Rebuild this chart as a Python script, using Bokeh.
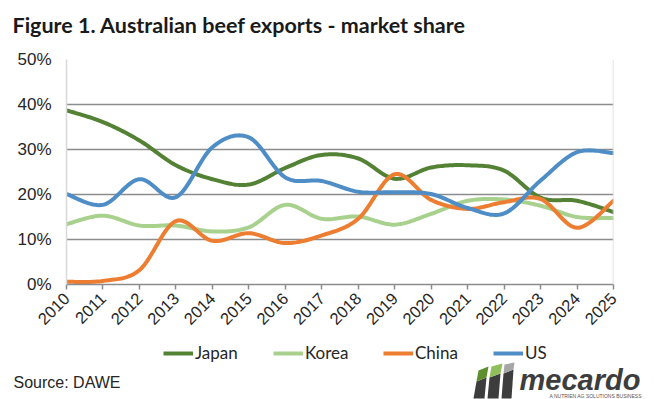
import numpy as np
from bokeh.plotting import figure
from bokeh.layouts import column
from bokeh.models import (FixedTicker, NumeralTickFormatter, Legend, LegendItem,
                          Label, Span, Range1d)
from bokeh.embed import file_html
from bokeh.resources import INLINE

years = list(range(2010, 2026))
japan = [38.7, 36.1, 32.0, 26.5, 23.4, 22.2, 25.9, 28.8, 28.0, 23.5, 26.0, 26.5, 25.3, 19.3, 18.6, 16.1]
korea = [13.4, 15.3, 13.1, 13.1, 11.8, 12.7, 17.7, 14.6, 15.1, 13.3, 15.7, 18.6, 18.9, 17.5, 15.0, 14.8]
china = [0.6, 0.8, 3.2, 14.1, 9.7, 11.4, 9.2, 10.9, 14.6, 24.5, 18.8, 16.8, 18.3, 19.0, 12.6, 18.6]
us = [20.1, 17.7, 23.4, 19.4, 30.5, 32.7, 23.8, 23.0, 20.6, 20.5, 20.1, 17.0, 15.8, 23.1, 29.4, 29.2]

series = [("Japan", japan, "#548235"), ("Korea", korea, "#A9D18E"),
          ("China", china, "#ED7D31"), ("US", us, "#4E8DC5")]

W = 654
H0, H1, H2 = 45, 295, 59      # title strip, chart, legend/source strip
L, R, T = 66, 41, 14
FH = 225
B = H1 - T - FH


def smooth(xs, ys, n=20):
    xs = np.asarray(xs, float)
    ys = np.asarray(ys, float) / 100.0
    N = len(xs)
    ox, oy = [], []
    for i in range(N - 1):
        a = i - 1 if i > 0 else i
        d = i + 2 if i + 2 < N else i + 1
        p0 = np.array([xs[i], ys[i]])
        p3 = np.array([xs[i + 1], ys[i + 1]])
        c1 = p0 + (np.array([xs[i + 1], ys[i + 1]]) - np.array([xs[a], ys[a]])) / 6
        c2 = p3 - (np.array([xs[d], ys[d]]) - np.array([xs[i], ys[i]])) / 6
        for t in np.linspace(0, 1, n, endpoint=False):
            pt = ((1 - t) ** 3) * p0 + 3 * ((1 - t) ** 2) * t * c1 + 3 * (1 - t) * t * t * c2 + t ** 3 * p3
            ox.append(pt[0]); oy.append(pt[1])
    ox.append(xs[-1]); oy.append(ys[-1])
    return ox, oy


def strip(h, y_top):
    f = figure(width=W, height=h, output_backend="svg", toolbar_location=None,
               x_range=Range1d(0, W), y_range=Range1d(y_top + h, y_top),
               x_axis_location=None, y_axis_location=None,
               min_border=0, min_border_left=0, min_border_right=0,
               min_border_top=0, min_border_bottom=0, frame_align=False)
    f.title.visible = False
    f.outline_line_color = None
    f.xgrid.visible = False
    f.ygrid.visible = False
    return f


# ---- title strip ----
p0 = strip(H0, 0)
p0.add_layout(Label(x=12, y=24, text="Figure 1. Australian beef exports - market share",
                    text_font="Lato", text_font_style="bold", text_font_size="21.5px",
                    text_color="#1a1a1a", text_baseline="middle"))

# ---- chart ----
p = figure(width=W, height=H1, output_backend="svg", toolbar_location=None,
           x_range=Range1d(2010, 2025), y_range=Range1d(0, 0.5), frame_align=False,
           min_border_left=L, min_border_right=R, min_border_top=T, min_border_bottom=B)
p.title.visible = False
p.outline_line_color = None

p.xgrid.grid_line_color = None
p.ygrid.grid_line_color = "#8c8c8c"
p.ygrid.grid_line_width = 1.5
p.ygrid.ticker = FixedTicker(ticks=[0.1, 0.2, 0.3, 0.4, 0.5])

ax = p.xaxis[0]
ax.ticker = FixedTicker(ticks=years)
ax.major_label_orientation = np.pi / 4
ax.major_tick_in = 0
ax.major_tick_out = 5
ax.minor_tick_line_color = None
ax.axis_line_color = "#8c8c8c"
ax.axis_line_width = 1.5
ax.major_tick_line_color = "#8c8c8c"
ax.major_tick_line_width = 1.5
ax.major_label_text_font = "Liberation Sans"
ax.major_label_text_font_size = "16.5px"
ax.major_label_text_color = "#262626"
ax.major_label_standoff = 6

ay = p.yaxis[0]
ay.ticker = FixedTicker(ticks=[0, 0.1, 0.2, 0.3, 0.4, 0.5])
ay.formatter = NumeralTickFormatter(format="0%")
ay.major_tick_in = 0
ay.major_tick_out = 0
ay.minor_tick_line_color = None
ay.axis_line_color = "#d9d9d9"
ay.axis_line_width = 1.5
ay.major_label_text_font = "Liberation Sans"
ay.major_label_text_font_size = "17px"
ay.major_label_text_color = "#262626"
ay.major_label_standoff = 15

p.add_layout(Span(location=2025, dimension="height", line_color="#d9d9d9", line_width=1.5))

for name, vals, col in series:
    sx, sy = smooth(years, vals)
    p.line(sx, sy, line_color=col, line_width=4, line_join="round", line_cap="round")

# ---- legend / source / logo strip ----
Y2 = H0 + H1
p2 = strip(H2, Y2)
items = []
for name, vals, col in series:
    r = p2.line([np.nan], [np.nan], line_color=col, line_width=4)
    items.append(LegendItem(label=name, renderers=[r]))
legend = Legend(items=items, orientation="horizontal", location=(163, (Y2 + H2) - 363),
                glyph_width=30, glyph_height=20, label_standoff=2, label_width=78,
                spacing=0, padding=0, margin=0, border_line_color=None,
                background_fill_alpha=0, label_text_font="Lato",
                label_text_font_size="17px", label_text_color="#262626")
p2.add_layout(legend)

p2.add_layout(Label(x=13, y=382, text="Source: DAWE", text_font="Liberation Sans",
                    text_font_size="16px", text_color="#262626", text_baseline="middle"))
p2.add_layout(Label(x=519, y=379, text="mecardo", text_font="Liberation Sans",
                    text_font_style="bold italic", text_font_size="29px",
                    text_color="#3d3d3d", text_baseline="middle"))
p2.add_layout(Label(x=549, y=395, text="A NUTRIEN AG SOLUTIONS BUSINESS",
                    text_font="Liberation Sans", text_font_size="5px",
                    text_color="#555555", text_baseline="middle"))

logo_xs = [[473, 476, 486, 484], [476, 478, 488, 486], [487, 489, 500, 498],
           [489, 491, 502, 500], [501, 503, 513, 511], [503, 504, 514, 513]]
logo_ys = [[398, 381, 377, 398], [381, 370, 366, 377], [398, 377, 373, 398],
           [377, 366, 363, 373], [398, 373, 369, 398], [373, 364, 362, 369]]
logo_cols = ["#3d3d3d", "#5d8f2f", "#3d3d3d", "#8fbf5a", "#3d3d3d", "#a6a6a6"]
p2.patches(logo_xs, logo_ys, fill_color=logo_cols, line_color=None)

layout = column(p0, p, p2, spacing=0)
open("out.html", "w").write(file_html(layout, INLINE))
